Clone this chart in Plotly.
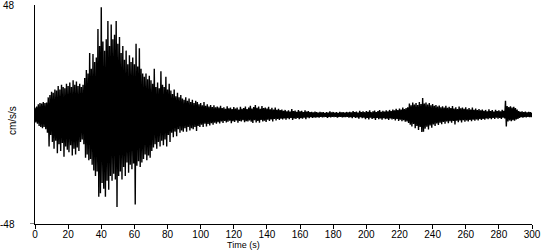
import numpy as np
import plotly.graph_objects as go

# Positive peak amplitudes (cm/s/s), one per second, t = 0..300 s
pos_peaks = [
    3.0, 3.5, 4.5, 5.0, 4.8, 5.5, 5.0, 5.2, 7.5, 8.5,
    10.0, 9.5, 11.0, 10.5, 12.5, 11.0, 13.0, 12.0, 11.5, 13.5,
    12.5, 14.0, 12.0, 15.0, 13.0, 14.5, 12.5, 13.5, 12.0, 13.0,
    16.0, 19.5, 18.0, 27.0, 20.0, 26.5, 23.0, 25.0, 37.5, 30.0,
    47.0, 32.0, 28.0, 33.0, 41.0, 30.0, 39.5, 33.0, 35.0, 41.0,
    31.0, 34.0, 27.0, 30.0, 24.0, 28.0, 22.0, 26.0, 23.0, 25.0,
    22.0, 31.0, 21.0, 29.0, 20.0, 18.0, 16.5, 18.0, 15.5, 17.0,
    15.0, 13.5, 20.0, 12.0, 14.0, 11.5, 19.0, 13.0, 12.0, 16.5,
    11.0, 13.5, 10.5, 9.0, 11.0, 8.0, 9.5, 7.5, 8.5, 7.0,
    6.5, 7.5, 6.0, 7.0, 5.5, 6.5, 5.0, 6.0, 5.5, 4.5,
    5.0, 4.0, 5.5, 3.8, 4.5, 3.5, 4.2, 3.3, 4.0, 3.2,
    3.5, 3.0, 3.8, 2.8, 3.2, 2.5, 3.6, 2.7, 3.0, 2.4,
    3.3, 2.6, 3.0, 2.2, 3.4, 2.5, 2.8, 3.5, 2.4, 3.0,
    3.8, 2.6, 3.3, 4.2, 2.9, 3.5, 2.5, 3.7, 2.8, 3.1,
    2.6, 3.4, 2.3, 2.9, 2.2, 3.0, 2.1, 2.5, 1.9, 2.2,
    1.6, 2.0, 1.4, 1.8, 1.3, 2.4, 1.5, 1.7, 1.2, 1.9,
    1.4, 1.6, 1.1, 1.8, 1.3, 1.5, 1.0, 1.2, 0.9, 1.3,
    1.0, 0.8, 1.2, 0.9, 1.1, 0.7, 1.0, 0.8, 1.4, 0.9,
    1.1, 0.8, 1.0, 0.7, 1.2, 0.9, 1.0, 0.8, 1.1, 0.9,
    1.2, 0.9, 1.5, 1.0, 1.3, 0.8, 1.6, 1.1, 1.4, 1.0,
    1.5, 1.2, 1.8, 1.0, 1.4, 1.7, 1.1, 1.5, 1.9, 1.2,
    1.6, 1.3, 1.8, 1.4, 2.0, 1.5, 2.2, 1.8, 2.5, 2.0,
    2.6, 2.2, 3.0, 2.4, 2.8, 3.2, 4.8, 4.0, 5.2, 4.4,
    5.0, 4.2, 5.5, 4.6, 7.2, 4.8, 5.3, 4.4, 5.0, 4.0,
    4.6, 3.8, 4.2, 3.5, 3.9, 3.2, 3.6, 3.0, 3.8, 2.9,
    3.4, 2.8, 3.7, 2.6, 3.2, 2.4, 3.5, 2.7, 3.0, 2.5,
    3.2, 2.3, 2.8, 2.2, 3.0, 2.1, 2.6, 2.0, 2.4, 1.8,
    2.2, 1.6, 2.0, 1.4, 2.3, 1.5, 1.9, 1.3, 2.1, 1.5,
    1.8, 1.4, 2.0, 1.6, 6.0, 3.7, 3.3, 3.6, 3.0, 3.4,
    2.8, 2.2, 1.5, 1.2, 1.4, 1.0, 1.3, 0.9, 1.2, 1.0,
    0.8,
]

# Negative peak amplitudes (cm/s/s), one per second, t = 0.5..299.5 s
neg_peaks = [
    -3.5, -4.0, -5.0, -5.5, -6.0, -5.5, -6.5, -8.0, -14.0, -9.0,
    -12.0, -15.0, -11.5, -17.0, -13.0, -16.0, -12.5, -18.5, -14.0, -15.5,
    -16.5, -13.5, -18.0, -15.0, -17.5, -14.5, -16.0, -12.0, -11.0, -13.0,
    -19.0, -17.5, -20.0, -19.5, -22.0, -24.5, -27.0, -25.0, -36.0, -34.5,
    -30.0, -32.5, -36.0, -29.0, -33.0, -27.0, -29.0, -26.0, -28.5, -40.5,
    -27.0, -25.0, -28.5, -23.0, -27.0, -21.0, -25.5, -22.0, -24.0, -21.5,
    -39.5, -22.5, -20.5, -23.0, -21.0, -19.5, -17.5, -20.0, -18.0, -19.0,
    -16.0, -14.5, -13.0, -15.0, -12.0, -14.0, -11.5, -13.5, -11.0, -14.0,
    -9.0, -12.0, -8.0, -10.0, -7.5, -9.5, -6.5, -8.0, -7.0, -7.5,
    -6.0, -7.5, -5.5, -7.0, -6.0, -6.5, -5.5, -7.2, -5.0, -5.5,
    -4.5, -5.5, -4.0, -5.2, -4.2, -4.8, -3.8, -4.5, -3.6, -4.0,
    -3.4, -3.9, -3.0, -3.7, -2.8, -3.5, -3.2, -2.7, -3.8, -2.9,
    -3.3, -2.6, -3.6, -2.8, -3.1, -2.5, -3.4, -2.9, -3.0, -2.6,
    -3.2, -3.7, -2.5, -3.5, -2.8, -3.6, -2.4, -3.0, -2.7, -3.3,
    -2.3, -2.8, -2.2, -3.0, -2.0, -2.6, -1.9, -2.4, -1.8, -2.2,
    -1.7, -2.3, -1.6, -2.0, -1.5, -2.4, -1.7, -1.9, -1.5, -2.1,
    -1.6, -1.8, -1.4, -2.0, -1.3, -1.6, -1.2, -1.5, -1.3, -1.4,
    -1.1, -1.4, -1.0, -1.3, -1.2, -1.0, -1.5, -1.1, -1.3, -1.0,
    -1.2, -1.0, -1.4, -1.1, -1.0, -1.3, -1.1, -1.2, -1.0, -1.4,
    -1.2, -1.6, -1.1, -1.5, -1.3, -1.8, -1.2, -1.6, -1.4, -2.0,
    -1.5, -2.2, -1.4, -1.9, -1.6, -2.4, -1.5, -2.0, -1.7, -2.3,
    -1.6, -2.1, -1.8, -2.4, -1.7, -2.2, -1.9, -2.6, -2.0, -2.8,
    -2.3, -2.9, -2.5, -3.2, -3.0, -3.7, -4.5, -5.2, -4.2, -6.0,
    -5.0, -6.8, -5.5, -7.7, -7.5, -6.2, -5.4, -6.6, -4.8, -5.8,
    -4.4, -5.0, -3.9, -4.6, -3.6, -4.3, -3.3, -4.0, -3.1, -3.8,
    -2.9, -3.6, -2.8, -4.4, -2.7, -3.4, -2.6, -3.5, -2.5, -3.2,
    -2.6, -3.0, -2.4, -2.9, -2.3, -2.7, -2.2, -2.6, -2.0, -2.4,
    -1.9, -2.3, -1.7, -2.1, -1.6, -2.0, -1.5, -1.9, -1.4, -1.8,
    -1.5, -1.9, -1.4, -1.7, -5.3, -3.0, -2.6, -2.9, -2.5, -2.7,
    -2.2, -1.9, -1.5, -1.2, -1.4, -1.1, -1.3, -1.0, -1.2, -1.1,
]

x_ticks = [0, 20, 40, 60, 80, 100, 120, 140, 160, 180, 200, 220, 240, 260, 280, 300]
y_labels = [48, -48]
x_title = "Time (s)"
y_title = "cm/s/s"

# interleave positive and negative peaks in time order
t_pos = np.arange(len(pos_peaks), dtype=float)
t_neg = np.arange(len(neg_peaks), dtype=float) + 0.5
t_all = np.concatenate([t_pos, t_neg])
v_all = np.concatenate([np.array(pos_peaks), np.array(neg_peaks)])
order = np.argsort(t_all, kind="stable")
t_all = t_all[order]
v_all = v_all[order]

fig = go.Figure()
fig.add_trace(go.Scatter(
    x=t_all, y=v_all, mode="lines",
    line=dict(color="black", width=1.4, simplify=False),
    hoverinfo="skip", showlegend=False,
))

font = dict(family="Liberation Sans, Arial, sans-serif", size=10, color="black")
title_font = dict(family="Liberation Sans, Arial, sans-serif", size=9, color="black")

annotations = [
    dict(text=x_title, xref="paper", yref="paper", x=0.419, y=0,
         yshift=-27, xanchor="center", yanchor="bottom", borderpad=0,
         showarrow=False, font=title_font),
    dict(text=y_title, xref="paper", yref="paper", x=0, y=0.47,
         xshift=-23, xanchor="center", yanchor="middle", textangle=-90,
         showarrow=False, font=font),
]
for v in y_labels:
    annotations.append(dict(text=str(v), xref="paper", yref="y", x=0, y=v,
                            xshift=-18, xanchor="right", yanchor="middle",
                            showarrow=False, font=font))

fig.update_layout(
    width=550, height=250,
    margin=dict(l=35, r=18, t=5, b=26),
    paper_bgcolor="white", plot_bgcolor="white",
    font=font,
    xaxis=dict(
        range=[0, 300], tickvals=x_ticks, ticktext=[str(v) for v in x_ticks],
        showline=True, linecolor="black", linewidth=1,
        ticks="outside", ticklen=4, tickcolor="black", tickwidth=1,
        showgrid=False, zeroline=False, tickfont=font,
        ticklabelstandoff=-3,
    ),
    yaxis=dict(
        range=[-48, 48], showticklabels=False,
        showline=True, linecolor="black", linewidth=1,
        ticks="", showgrid=False, zeroline=False,
    ),
    annotations=annotations,
    shapes=[
        dict(type="line", xref="paper", yref="y", x0=-0.01, x1=0, y0=-48, y1=-48,
             line=dict(color="black", width=1)),
    ],
)

fig.write_html("out.html")
